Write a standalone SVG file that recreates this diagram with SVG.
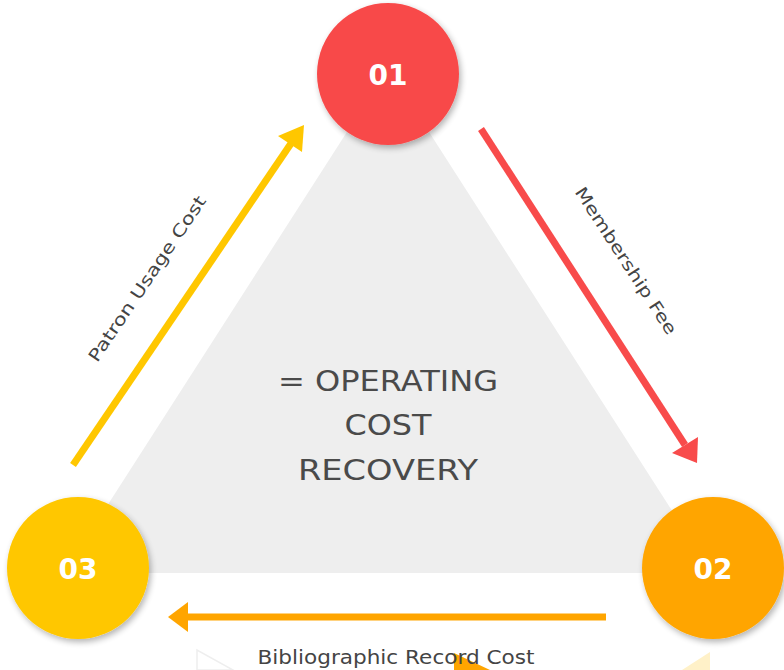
<svg xmlns="http://www.w3.org/2000/svg" width="784" height="670" viewBox="0 0 784 670">
<style>
.num{font-family:"DejaVu Sans","Open Sans",sans-serif;font-weight:700;font-size:28px;fill:#fff;text-anchor:middle}
.lbl{font-family:"DejaVu Sans","Open Sans",sans-serif;font-size:17px;fill:#444;text-anchor:middle}
.ctr{font-family:"DejaVu Sans","Open Sans",sans-serif;font-weight:400;font-size:28px;fill:#4a4a4a;text-anchor:middle}
</style>
<defs>
<filter id="sh" x="-20%" y="-20%" width="150%" height="150%">
<feGaussianBlur in="SourceAlpha" stdDeviation="3"/>
<feOffset dx="2" dy="3"/>
<feComponentTransfer><feFuncA type="linear" slope="0.3"/></feComponentTransfer>
<feMerge><feMergeNode/><feMergeNode in="SourceGraphic"/></feMerge>
</filter>
</defs>
<rect width="784" height="670" fill="#fff"/>
<g id="background">
<polygon points="388,68 64,573 712,573" fill="#eeeeee"/>
<polygon points="197,650 197,670 233,670" fill="#fff" stroke="#eeeeee" stroke-width="1.5"/>
<polygon points="454,653 454,670 490,670" fill="#ffa500"/>
<polygon points="710,652 710,670 682,670" fill="#fff1c8"/>
</g>
<g id="connectors">
<g id="edge-01-02">
<line x1="481" y1="129" x2="685" y2="445" stroke="#f84b4b" stroke-width="7"/>
<polygon points="697,463 672,453 698,437" fill="#f84b4b"/>
<text class="lbl" transform="translate(621,264) rotate(57)" textLength="172" lengthAdjust="spacingAndGlyphs">Membership Fee</text>
</g>
<g id="edge-02-03">
<line x1="606" y1="617" x2="186" y2="617" stroke="#ffa500" stroke-width="7"/>
<polygon points="168,617 188,602 188,632" fill="#ffa500"/>
<text class="lbl" x="396" y="664" style="font-size:19px" textLength="277" lengthAdjust="spacingAndGlyphs">Bibliographic Record Cost</text>
</g>
<g id="edge-03-01">
<line x1="73" y1="465" x2="292" y2="142" stroke="#ffc700" stroke-width="7"/>
<polygon points="304,125 302,152 278,136" fill="#ffc700"/>
<text class="lbl" transform="translate(152,282) rotate(-56)" textLength="196" lengthAdjust="spacingAndGlyphs">Patron Usage Cost</text>
</g>
</g>
<g id="center-text">
<text class="ctr" x="388" y="391" textLength="220" lengthAdjust="spacingAndGlyphs">= OPERATING</text>
<text class="ctr" x="388" y="435" textLength="87" lengthAdjust="spacingAndGlyphs">COST</text>
<text class="ctr" x="388" y="480" textLength="180" lengthAdjust="spacingAndGlyphs">RECOVERY</text>
</g>
<g id="node-01">
<circle cx="388" cy="74" r="71" fill="#f84a4a" filter="url(#sh)"/>
<text class="num" x="388" y="85">01</text>
</g>
<g id="node-02">
<circle cx="713" cy="568" r="71" fill="#ffa500" filter="url(#sh)"/>
<text class="num" x="713" y="579">02</text>
</g>
<g id="node-03">
<circle cx="78" cy="568" r="71" fill="#ffc700" filter="url(#sh)"/>
<text class="num" x="78" y="579">03</text>
</g>
</svg>
